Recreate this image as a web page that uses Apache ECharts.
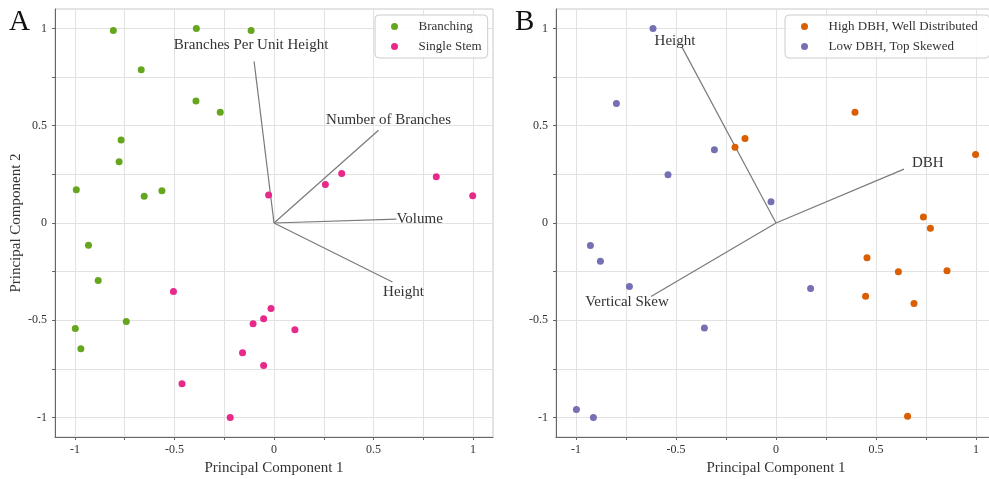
<!DOCTYPE html>
<html>
<head>
<meta charset="utf-8">
<script src="https://cdn.jsdelivr.net/npm/echarts@6/dist/echarts.min.js"></script>
<style>html,body{margin:0;padding:0;background:#fff}#c{width:989px;height:479px}</style>
</head>
<body>
<div id="c"></div>
<script>
// ---- data ----
const majorTicks = [-1, -0.5, 0, 0.5, 1];
const minorTicks = [-1, -0.75, -0.5, -0.25, 0, 0.25, 0.5, 0.75, 1];

const branching = [[-0.807,0.99],[-0.39,1.0],[-0.115,0.99],[-0.667,0.788],[-0.392,0.627],[-0.27,0.569],[-0.768,0.426],[-0.778,0.315],[-0.993,0.171],[-0.652,0.137],[-0.563,0.166],[-0.932,-0.115],[-0.883,-0.296],[-0.742,-0.506],[-0.998,-0.542],[-0.97,-0.646]];
const singleStem = [[-0.027,0.144],[0.258,0.198],[0.34,0.255],[0.815,0.238],[0.998,0.14],[-0.505,-0.352],[-0.015,-0.439],[-0.052,-0.492],[-0.105,-0.518],[0.105,-0.549],[-0.158,-0.667],[-0.052,-0.732],[-0.462,-0.826],[-0.22,-1.0]];
const highDBH = [[0.395,0.569],[-0.155,0.434],[-0.205,0.39],[0.998,0.352],[0.737,0.031],[0.772,-0.027],[0.455,-0.178],[0.612,-0.25],[0.855,-0.245],[0.448,-0.376],[0.69,-0.414],[0.658,-0.993]];
const lowDBH = [[-0.615,1.0],[-0.798,0.614],[-0.308,0.376],[-0.54,0.248],[-0.025,0.109],[-0.928,-0.116],[-0.878,-0.197],[-0.733,-0.327],[0.173,-0.337],[-0.358,-0.54],[-0.998,-0.959],[-0.913,-1.0]];

const loadingNamesA = ['Branches Per Unit Height', 'Number of Branches', 'Volume', 'Height'];
const loadingValuesA = [[-0.10,0.831],[0.525,0.477],[0.615,0.02],[0.595,-0.303]];
const loadingNamesB = ['Height', 'DBH', 'Vertical Skew'];
const loadingValuesB = [[-0.47,0.904],[0.64,0.277],[-0.625,-0.378]];

// ---- styles ----
const FONT = "'Liberation Serif', 'Times New Roman', serif";
const labelStylesA = [
  {position:'inside', offset:[-3,-16]},
  {position:'inside', offset:[10,-10]},
  {position:'right', distance:0, offset:[0,0]},
  {position:'inside', offset:[11,10]}
];
const labelStylesB = [
  {position:'inside', offset:[-7,-6]},
  {position:'right', distance:8, offset:[0,-6]},
  {position:'inside', offset:[-24,6]}
];

function xAxisCfg(idx){
  return {
    type:'value', gridIndex: idx, min:-1.1, max:1.1,
    name: 'Principal Component 1', nameLocation:'middle', nameGap:20,
    nameTextStyle:{fontFamily:FONT, fontSize:15, color:'#333'},
    axisLine:{show:true, onZero:false, lineStyle:{color:'#666', width:1}},
    axisTick:{show:true, length:3, customValues:minorTicks, lineStyle:{color:'#666'}},
    axisLabel:{customValues:majorTicks, fontFamily:FONT, fontSize:12, color:'#333', margin:7},
    splitLine:{show:true, lineStyle:{color:'#e2e2e2', width:1}}
  };
}
function yAxisCfg(idx, withName){
  const c = {
    type:'value', gridIndex: idx, min:-1.1, max:1.1,
    axisLine:{show:true, onZero:false, lineStyle:{color:'#666', width:1}},
    axisTick:{show:true, length:3, customValues:minorTicks, lineStyle:{color:'#666'}},
    axisLabel:{customValues:majorTicks, fontFamily:FONT, fontSize:12, color:'#333', margin:8},
    splitLine:{show:true, lineStyle:{color:'#e2e2e2', width:1}}
  };
  if (withName) {
    c.name = 'Principal Component 2';
    c.nameLocation = 'middle';
    c.nameGap = 31;
    c.nameTextStyle = {fontFamily:FONT, fontSize:15, color:'#333'};
  }
  return c;
}
function scatterSeries(name, data, color, idx){
  return {
    type:'scatter', name, data, xAxisIndex:idx, yAxisIndex:idx,
    symbol:'circle', symbolSize:7, itemStyle:{color, opacity:1}, z:3
  };
}
function loadingSeries(names, values, styles, idx){
  return names.map((n, i) => ({
    type:'line', name:'_' + n, xAxisIndex:idx, yAxisIndex:idx,
    data:[ {value:[0,0], label:{show:false}}, {value:values[i]} ],
    symbol:'circle', symbolSize:0, showSymbol:true, silent:true, z:2,
    lineStyle:{color:'#7a7a7a', width:1.2},
    itemStyle:{color:'#7a7a7a'},
    label:Object.assign({show:true, formatter:n, fontFamily:FONT, fontSize:15, color:'#333'}, styles[i]),
    emphasis:{disabled:true}
  }));
}
function legendCfg(left, names){
  return {
    data: names.map(n => ({name:n, icon:'circle'})),
    orient:'vertical', left, top:15,
    itemWidth:38, itemHeight:7, itemGap:7,
    padding:[5,12,5,16],
    borderColor:'#cccccc', borderWidth:1, borderRadius:4,
    backgroundColor:'rgba(255,255,255,0.85)',
    textStyle:{fontFamily:FONT, fontSize:13, color:'#333'}
  };
}

const option = {
  animation:false,
  backgroundColor:'#fff',
  title:[
    {text:'A', left:4, top:3, textStyle:{fontFamily:FONT, fontSize:29, fontWeight:'normal', color:'#111'}},
    {text:'B', left:510, top:3, textStyle:{fontFamily:FONT, fontSize:29, fontWeight:'normal', color:'#111'}}
  ],
  grid:[
    {left:55, top:9, width:438, height:428, show:true, borderColor:'#c8c8c8', borderWidth:1, outerBoundsMode:'none'},
    {left:556, top:9, width:440, height:428, show:true, borderColor:'#c8c8c8', borderWidth:1, outerBoundsMode:'none'}
  ],
  xAxis:[xAxisCfg(0), xAxisCfg(1)],
  yAxis:[yAxisCfg(0, true), yAxisCfg(1, false)],
  legend:[
    Object.assign(legendCfg(375, ['Branching', 'Single Stem']), {padding:[5,6,5,16]}),
    legendCfg(785, ['High DBH, Well Distributed', 'Low DBH, Top Skewed'])
  ],
  series:[
    ...loadingSeries(loadingNamesA, loadingValuesA, labelStylesA, 0),
    ...loadingSeries(loadingNamesB, loadingValuesB, labelStylesB, 1),
    scatterSeries('Branching', branching, '#66a61e', 0),
    scatterSeries('Single Stem', singleStem, '#e7298a', 0),
    scatterSeries('High DBH, Well Distributed', highDBH, '#d95f02', 1),
    scatterSeries('Low DBH, Top Skewed', lowDBH, '#7570b3', 1)
  ]
};
const chart = echarts.init(document.getElementById('c'), null, {renderer:'canvas'});
chart.setOption(option);
</script>
</body>
</html>
